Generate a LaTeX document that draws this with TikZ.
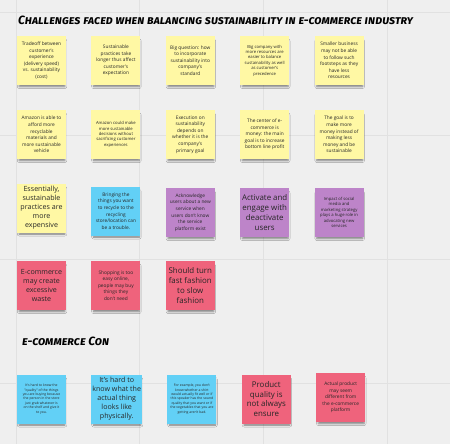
\documentclass[tikz,border=0pt]{standalone}
\usepackage{fontspec}
\setmainfont{Open Sans}
\newfontfamily\titlefont[Letters=SmallCaps]{Fira Sans}
\usetikzlibrary{positioning, shadows.blur}
\definecolor{boardgray}{HTML}{EFEFEF}
\definecolor{gridgray}{HTML}{E1E1E1}
\definecolor{stickyyellow}{HTML}{FFF8A4}
\definecolor{stickyblue}{HTML}{62D0F6}
\definecolor{stickypurple}{HTML}{BD84C9}
\definecolor{stickyred}{HTML}{EF637C}
\definecolor{inkgray}{HTML}{262626}

\tikzset{
  sticky/.style={minimum width=49pt, minimum height=49pt, inner sep=1pt, align=center, text=inkgray,
    blur shadow={shadow xshift=0.6pt, shadow yshift=-3.5pt, shadow scale=0.93, shadow opacity=50}},
  yellownote/.style={sticky, fill=stickyyellow},
  bluenote/.style={sticky, fill=stickyblue},
  purplenote/.style={sticky, fill=stickypurple},
  rednote/.style={sticky, fill=stickyred},
  smalltext/.style={font=\fontsize{4.8}{6.6}\selectfont},
  smallertext/.style={font=\fontsize{4.2}{5.4}\selectfont},
  tinytext/.style={font=\fontsize{3.4}{4.4}\selectfont},
  bigtext/.style={font=\fontsize{7.1}{9}\selectfont},
  hugetext/.style={font=\fontsize{7.9}{9.8}\selectfont},
  heading/.style={anchor=west, inner sep=0pt, text=black, font=\titlefont\bfseries\itshape\fontsize{12}{13}\selectfont}
}

\begin{document}
\begin{tikzpicture}[x=1pt, y=-1pt]
  % board
  \fill[boardgray] (0,0) rectangle (450,444);
  \useasboundingbox (0,0) rectangle (450,444);
  \foreach \gx in {16,139.5,263,387} \draw[gridgray, line width=0.8pt] (\gx,0) -- (\gx,444);
  \foreach \gy in {12,135.5,259,383} \draw[gridgray, line width=0.8pt] (0,\gy) -- (450,\gy);

  \node[heading] (challenges) at (18,20) {Challenges faced when balancing sustainability in e-commerce industry};

  % first row
  \node[yellownote, smalltext] (tradeoff) at (41.5,60.5) {Tradeoff between\\customer's\\experience\\(delivery speed)\\vs. sustainability\\(cost)};
  \node[yellownote, smalltext, right=25pt of tradeoff] (slowpractice) {Sustainable\\practices take\\longer thus affect\\customer's\\expectation};
  \node[yellownote, smalltext, right=25pt of slowpractice] (bigquestion) {Big question: how\\to incorporate\\sustainability into\\company's\\standard};
  \node[yellownote, smallertext, right=25pt of bigquestion] (bigcompany) {Big company with\\more resources are\\easier to balance\\sustainability as well\\as customer's\\precedence};
  \node[yellownote, smalltext, right=25pt of bigcompany] (smallbiz) {Smaller business\\may not be able\\to follow such\\footsteps as they\\have less\\resources};

  % second row
  \node[yellownote, smalltext] (amazonafford) at (41.5,134.5) {Amazon is able to\\afford more\\recyclable\\materials and\\more sustainable\\vehicle};
  \node[yellownote, smallertext, right=25pt of amazonafford] (amazondecide) {Amazon could make\\more sustainable\\decisions without\\sacrificing customer\\experiences};
  \node[yellownote, smalltext, right=25pt of amazondecide] (execution) {Execution on\\sustainability\\depends on\\whether it is the\\company's\\primary goal};
  \node[yellownote, smalltext, right=25pt of execution] (moneycenter) {The center of e-\\commerce is\\money: the main\\goal is to increase\\bottom line profit};
  \node[yellownote, smalltext, right=25pt of moneycenter] (moregoal) {The goal is to\\make more\\money instead of\\making less\\money and be\\sustainable};

  % third row
  \node[yellownote, bigtext] (expensive) at (41.5,208) {Essentially,\\sustainable\\practices are\\more\\expensive};
  \node[bluenote, smalltext, right=25pt of expensive, yshift=-3pt] (recycle) {Bringing the\\things you want\\to recycle to the\\recycling\\store/location can\\be a trouble.};
  \node[purplenote, smalltext, right=25pt of recycle, yshift=-1.5pt] (acknowledge) {Acknowledge\\users about a new\\service when\\users don't know\\the service\\platform exist};
  \node[purplenote, hugetext, right=25pt of acknowledge] (activate) {Activate and\\engage with\\deactivate\\users};
  \node[purplenote, smallertext, right=25pt of activate] (socialmedia) {Impact of social\\media and\\marketing strategy\\plays a huge role in\\advocating new\\services};

  % fourth row
  \node[rednote, bigtext] (waste) at (41.5,285.5) {E-commerce\\may create\\excessive\\waste};
  \node[rednote, smalltext, right=25pt of waste] (easyshop) {Shopping is too\\easy online,\\people may buy\\things they\\don't need};
  \node[rednote, hugetext, right=25pt of easyshop] (fastfashion) {Should turn\\fast fashion\\to slow\\fashion};

  \node[heading] (cons) at (22,341) {e-commerce Con};

  % fifth row
  \node[bluenote, tinytext] (quality) at (41.5,399) {It's hard to know the\\"quality" of the things\\you are buying because\\the person in the store\\just grab whatever is\\on the shelf and give it\\to you.};
  \node[bluenote, bigtext, right=25pt of quality] (looks) {It's hard to\\know what the\\actual thing\\looks like\\physically.};
  \node[bluenote, tinytext, right=25pt of looks] (forexample) {For example, you don't\\know whether a shirt\\would actually fit well or if\\this speaker has the sound\\quality that you want or if\\the vegetables that you are\\getting aren't bad.};
  \node[rednote, hugetext, right=25pt of forexample] (ensure) {Product\\quality is\\not always\\ensure};
  \node[rednote, smalltext, right=25pt of ensure, yshift=1.5pt] (different) {Actual product\\may seem\\different from\\the e-commerce\\platform};
\end{tikzpicture}
\end{document}
